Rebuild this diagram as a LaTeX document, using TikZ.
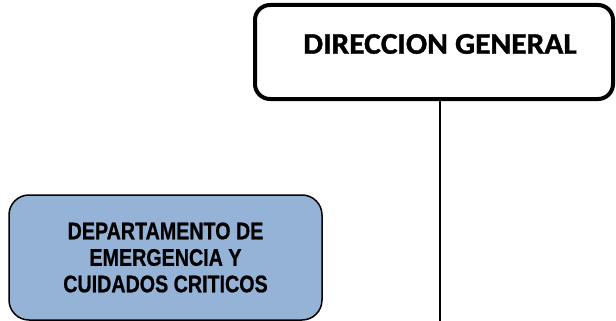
\documentclass[tikz,border=0pt]{standalone}
\usepackage{fontspec}
\newfontfamily\dgfont[FakeStretch=1.05, FakeBold=1.2]{Carlito Bold}
\newfontfamily\depfont[FakeStretch=0.82, FakeBold=0.8]{Liberation Sans Bold}
\usetikzlibrary{positioning}
\definecolor{depblue}{HTML}{95B3D7}

\begin{document}
\begin{tikzpicture}[x=1pt, y=-1pt]
    \useasboundingbox (0, 0) rectangle (616, 321);

    \node[draw, line width=4pt, rounded corners=15pt, minimum width=358pt, minimum height=94pt] (dg) at (434, 52) {};
    \node[font=\dgfont\fontsize{30}{30}\selectfont] (dgtxt) at (440, 44) {DIRECCION GENERAL};

    \node[draw, line width=1.5pt, rounded corners=20pt, fill=depblue, minimum width=313pt, minimum height=125pt, align=center,
          font=\depfont\fontsize{24}{26.5}\selectfont] (emerg) at (165.5, 257.5) {DEPARTAMENTO DE\\EMERGENCIA Y\\CUIDADOS CRITICOS};

    \coordinate (down) at (440, 321);
    \draw[line width=1.3pt] (dgtxt |- dg.south) -- (down);
\end{tikzpicture}
\end{document}
